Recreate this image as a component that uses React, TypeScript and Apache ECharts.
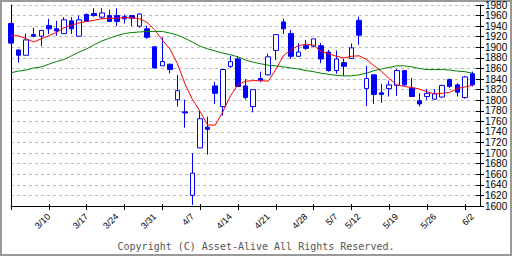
import React, { useEffect, useRef } from "react";
import * as echarts from "echarts";

const dates = [
  "3/3", "3/4", "3/5", "3/6", "3/7", "3/10", "3/11", "3/12", "3/13", "3/14",
  "3/17", "3/18", "3/19", "3/21", "3/24", "3/25", "3/26", "3/27", "3/28", "3/31",
  "4/1", "4/2", "4/3", "4/4", "4/7", "4/8", "4/9", "4/10", "4/11", "4/14",
  "4/15", "4/16", "4/17", "4/18", "4/21", "4/22", "4/23", "4/24", "4/25", "4/28",
  "4/30", "5/1", "5/2", "5/7", "5/8", "5/9", "5/12", "5/13", "5/14", "5/15",
  "5/16", "5/19", "5/20", "5/21", "5/22", "5/23", "5/26", "5/27", "5/28", "5/29",
  "5/30", "6/2",
];

const openV = [
  1945, 1895, 1885, 1924, 1921, 1941, 1935, 1926, 1950, 1921,
  1962, 1964, 1957, 1960, 1960, 1958, 1960, 1940, 1935, 1901,
  1865, 1868, 1801, 1778, 1620, 1710, 1749, 1827, 1788, 1864,
  1878, 1827, 1788, 1841, 1848, 1894, 1948, 1926, 1883, 1903,
  1902, 1903, 1891, 1856, 1871, 1879, 1951, 1822, 1848, 1814,
  1822, 1828, 1856, 1823, 1799, 1807, 1802, 1806, 1839, 1829,
  1805, 1850,
];
const closeV = [
  1908, 1885, 1914, 1921, 1932, 1935, 1931, 1952, 1935, 1952,
  1949, 1960, 1965, 1949, 1949, 1954, 1955, 1963, 1919, 1861,
  1873, 1858, 1818, 1776, 1662, 1765, 1745, 1813, 1858, 1873,
  1826, 1805, 1820, 1837, 1882, 1924, 1935, 1883, 1891, 1898,
  1916, 1878, 1856, 1878, 1864, 1899, 1923, 1841, 1811, 1811,
  1829, 1856, 1829, 1807, 1793, 1813, 1812, 1828, 1826, 1815,
  1844, 1829,
];
const lowV = [
  1907, 1871, 1885, 1919, 1902, 1925, 1922, 1925, 1925, 1921,
  1948, 1958, 1954, 1948, 1940, 1945, 1940, 1937, 1916, 1860,
  1865, 1851, 1788, 1748, 1602, 1710, 1697, 1793, 1771, 1861,
  1825, 1801, 1777, 1834, 1847, 1876, 1925, 1878, 1882, 1895,
  1901, 1870, 1854, 1850, 1846, 1878, 1905, 1789, 1793, 1795,
  1807, 1808, 1827, 1806, 1788, 1801, 1801, 1805, 1823, 1807,
  1803, 1826,
];
const highV = [
  1946, 1896, 1926, 1937, 1933, 1954, 1950, 1957, 1957, 1960,
  1964, 1974, 1974, 1971, 1974, 1962, 1960, 1964, 1941, 1902,
  1919, 1869, 1848, 1801, 1700, 1780, 1769, 1835, 1858, 1884,
  1883, 1840, 1820, 1854, 1888, 1924, 1954, 1933, 1908, 1914,
  1916, 1908, 1895, 1894, 1878, 1907, 1958, 1865, 1848, 1831,
  1837, 1859, 1857, 1842, 1813, 1821, 1821, 1829, 1841, 1832,
  1846, 1854,
];

const maShort = [
  1922, 1922, 1916, 1910, 1916, 1922, 1928, 1937, 1942, 1946,
  1949, 1951, 1954, 1955, 1955, 1956, 1956, 1954, 1947, 1933,
  1914, 1897, 1869, 1831, 1801, 1779, 1753, 1753, 1778, 1808,
  1829, 1836, 1837, 1837, 1836, 1858, 1884, 1895, 1903, 1906,
  1904, 1892, 1888, 1883, 1880, 1883, 1884, 1877, 1865, 1854,
  1841, 1829, 1826, 1824, 1821, 1816, 1812, 1813, 1815, 1822,
  1825, 1828,
];
const maLong = [
  1852, 1855, 1857, 1861, 1863, 1868, 1873, 1877, 1884, 1891,
  1897, 1905, 1912, 1917, 1922, 1926, 1928, 1929, 1930, 1930,
  1930, 1927, 1923, 1917, 1910, 1902, 1897, 1893, 1889, 1886,
  1882, 1876, 1872, 1869, 1866, 1865, 1863, 1861, 1859, 1856,
  1854, 1851, 1849, 1847, 1846, 1846, 1848, 1851, 1856, 1859,
  1862, 1865, 1865, 1863, 1860, 1858, 1858, 1858, 1857, 1855,
  1854, 1851,
];

const labelDates = [
  "3/10", "3/17", "3/24", "3/31", "4/7", "4/14", "4/21", "4/28",
  "5/7", "5/12", "5/19", "5/26", "6/2",
];

const yMin = 1600;
const yMax = 1980;
const yStep = 20;

export default function App() {
  const ref = useRef<HTMLDivElement>(null);
  useEffect(() => {
    if (!ref.current) return;
    const chart = echarts.init(ref.current, undefined, { renderer: "svg" });
    const cats = [...dates, ""];
    const candle = dates.map((_, i) => [openV[i], closeV[i], lowV[i], highV[i]]);
    const tickFn = (i: number) => i % 5 === 0 && i < dates.length;
    const labelFn = (_i: number, v: string) => labelDates.includes(v);
    const yBase = { type: "value", min: yMin, max: yMax, interval: yStep, scale: true };
    chart.setOption({
      animation: false,
      backgroundColor: "#ffffff",
      grid: { left: 11, right: 32, top: 5, bottom: 50 },
      xAxis: [
        {
          type: "category",
          data: cats,
          boundaryGap: false,
          axisLine: { lineStyle: { color: "#000", width: 1 } },
          axisTick: { interval: tickFn, length: 4, lineStyle: { color: "#000" } },
          axisLabel: {
            interval: labelFn,
            rotate: 45,
            margin: 9,
            fontSize: 9,
            fontFamily: "Liberation Sans",
            color: "#000",
          },
          splitLine: { show: false },
        },
        {
          type: "category",
          data: cats,
          boundaryGap: false,
          position: "bottom",
          axisLine: { show: false },
          axisTick: { interval: tickFn, inside: true, length: 2, lineStyle: { color: "#000" } },
          axisLabel: { show: false },
          splitLine: { show: false },
        },
      ],
      yAxis: [
        {
          ...yBase,
          position: "right",
          axisLine: { show: true, lineStyle: { color: "#000" } },
          axisTick: { show: true, length: 4, lineStyle: { color: "#000" } },
          axisLabel: {
            margin: 5,
            fontSize: 10,
            fontFamily: "Liberation Sans",
            color: "#000",
            formatter: (v: number) => String(v),
          },
          splitLine: { show: true, lineStyle: { color: "#bbbbbb", type: [3, 3], width: 1 } },
        },
        {
          ...yBase,
          position: "right",
          axisLine: { show: false },
          axisTick: { show: true, inside: true, length: 4, lineStyle: { color: "#000" } },
          axisLabel: { show: false },
          splitLine: { show: false },
        },
        {
          ...yBase,
          position: "left",
          axisLine: { show: true, lineStyle: { color: "#000" } },
          axisTick: { show: false },
          axisLabel: { show: false },
          splitLine: { show: false },
        },
      ],
      series: [
        {
          type: "candlestick",
          data: candle,
          barWidth: 5,
          z: 2,
          itemStyle: {
            color: "#ffffff",
            color0: "#0000ff",
            borderColor: "#0000ff",
            borderColor0: "#0000ff",
            borderWidth: 1,
          },
        },
        {
          type: "line",
          data: maShort,
          symbol: "none",
          z: 3,
          lineStyle: { color: "#ff0000", width: 1 },
        },
        {
          type: "line",
          data: maLong,
          symbol: "none",
          z: 3,
          lineStyle: { color: "#008000", width: 1 },
        },
      ],
      graphic: [
        {
          type: "rect",
          shape: { x: 1, y: 1, width: 510, height: 254 },
          style: { fill: "none", stroke: "#999999", lineWidth: 2 },
          silent: true,
        },
        {
          type: "text",
          x: 256,
          y: 246,
          style: {
            text: "Copyright (C) Asset-Alive All Rights Reserved.",
            fontFamily: "DejaVu Sans Mono",
            fontSize: 10,
            fill: "#555555",
            textAlign: "center",
            textVerticalAlign: "middle",
          },
        },
      ],
    });
    return () => chart.dispose();
  }, []);
  return (
    <div
      ref={ref}
      style={{ position: "absolute", left: 0, top: 0, width: 512, height: 256 }}
    />
  );
}
